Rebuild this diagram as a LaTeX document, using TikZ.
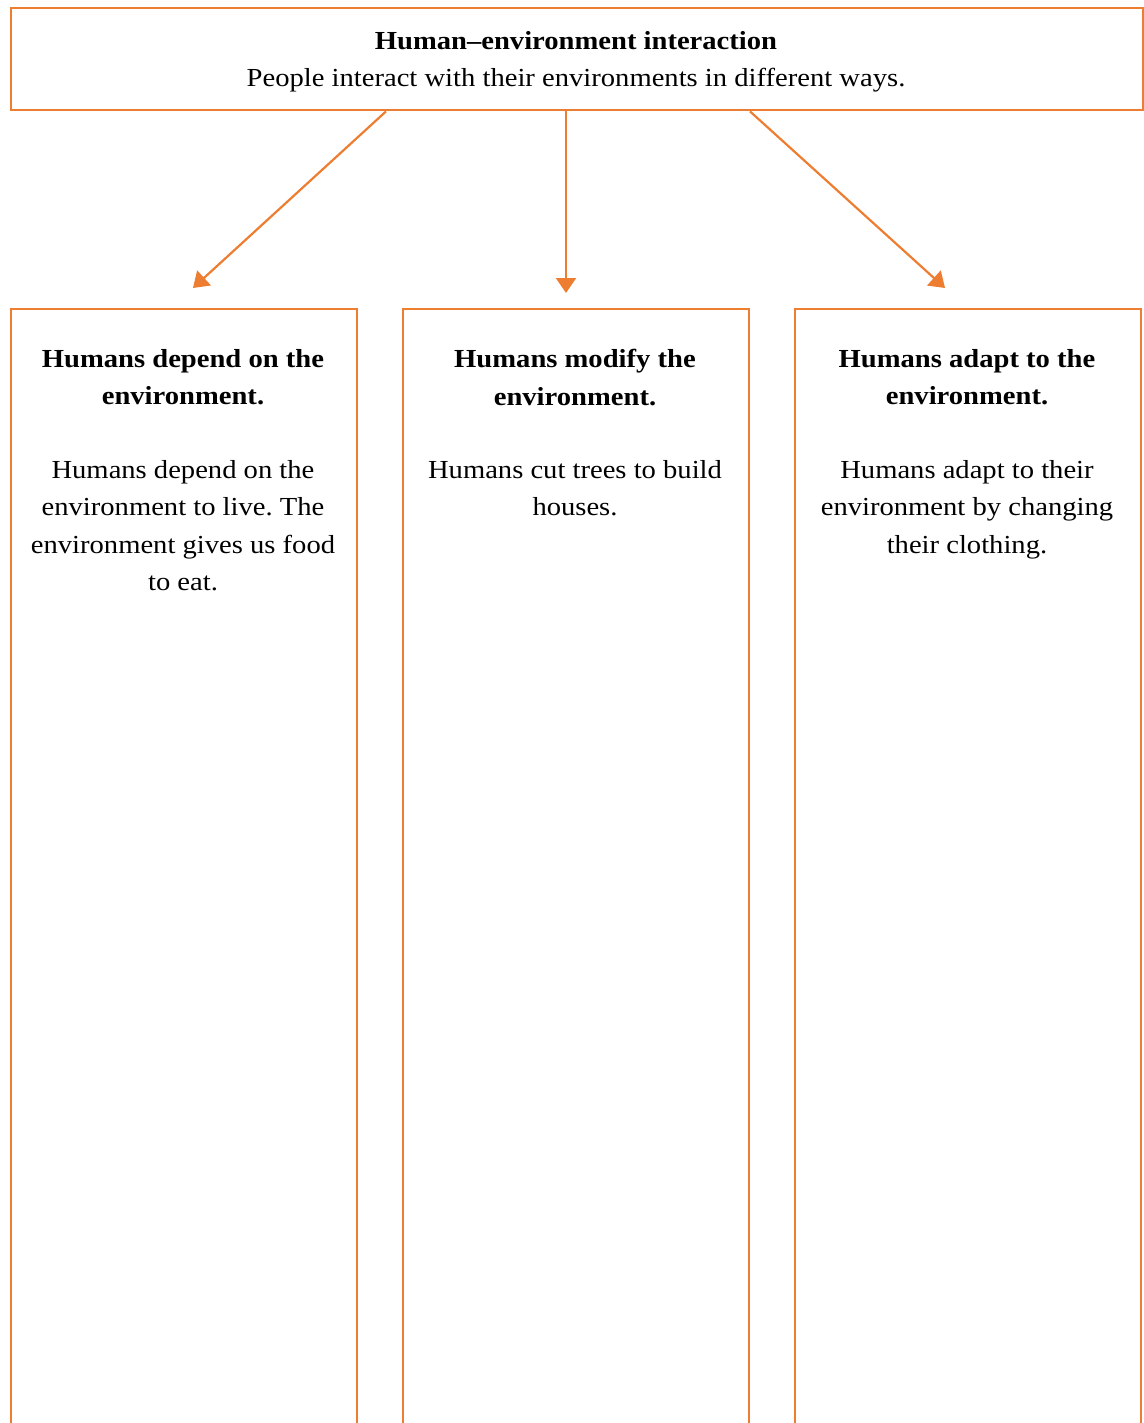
\documentclass[tikz,border=0pt]{standalone}
\usepackage{fontspec}
\setmainfont[FakeStretch=1.1]{Liberation Serif}
\usepackage{tikz}
\usetikzlibrary{shapes,arrows,fit,positioning,arrows.meta}

\definecolor{boxorange}{RGB}{237,125,49}
\frenchspacing

\begin{document}
\begin{tikzpicture}[x=1pt,y=1pt,yscale=-1,xscale=1,
  frame/.style={draw=boxorange,line width=2.4pt,rectangle,inner sep=0pt},
  column/.style={frame,anchor=north west,minimum width=346pt,minimum height=1200pt},
  txt/.style={anchor=north,inner sep=0pt,align=center,font=\fontsize{26}{37.5}\selectfont},
  link/.style={draw=boxorange,line width=2.2pt,-{Triangle[length=15pt,width=20pt]}}]
\useasboundingbox (0,0) rectangle (1143,1423);

%Shape: Rectangle (top box)
\node [frame,anchor=north west,minimum width=1132pt,minimum height=102pt] (top) at (10,7) {};
% Text Node
\node [txt] (title) at (576,31) {\textbf{Human–environment interaction}\\People interact with their environments in different ways.};

%Shape: Rectangle (columns)
\node [column] (depend) at (10,308) {};
\node [column] (modify) at (402,308) {};
\node [column] (adapt) at (794,308) {};

%Arrow tips
\coordinate (tipL) at (193,288);
\coordinate (tipM) at (566,293);
\coordinate (tipR) at (945,288);

%Straight Lines
\draw [link] (top.south -| 386,0) -- (tipL);
\draw [link] (top.south -| tipM) -- (tipM);
\draw [link] (top.south -| 750,0) -- (tipR);

% Text Node
\node [txt] (dependhead) at (183,349) {\textbf{Humans depend on the}\\\textbf{environment.}};
% Text Node
\node [txt] (modifyhead) at (575,349) {\textbf{Humans modify the}\\\textbf{environment.}};
% Text Node
\node [txt] (adapthead) at (967,349) {\textbf{Humans adapt to the}\\\textbf{environment.}};

% Text Node
\node [txt] (dependtext) at (183,460) {Humans depend on the\\environment to live. The\\environment gives us food\\to eat.};
% Text Node
\node [txt] (modifytext) at (575,460) {Humans cut trees to build\\houses.};
% Text Node
\node [txt] (adapttext) at (967,460) {Humans adapt to their\\environment by changing\\their clothing.};
\end{tikzpicture}
\end{document}
